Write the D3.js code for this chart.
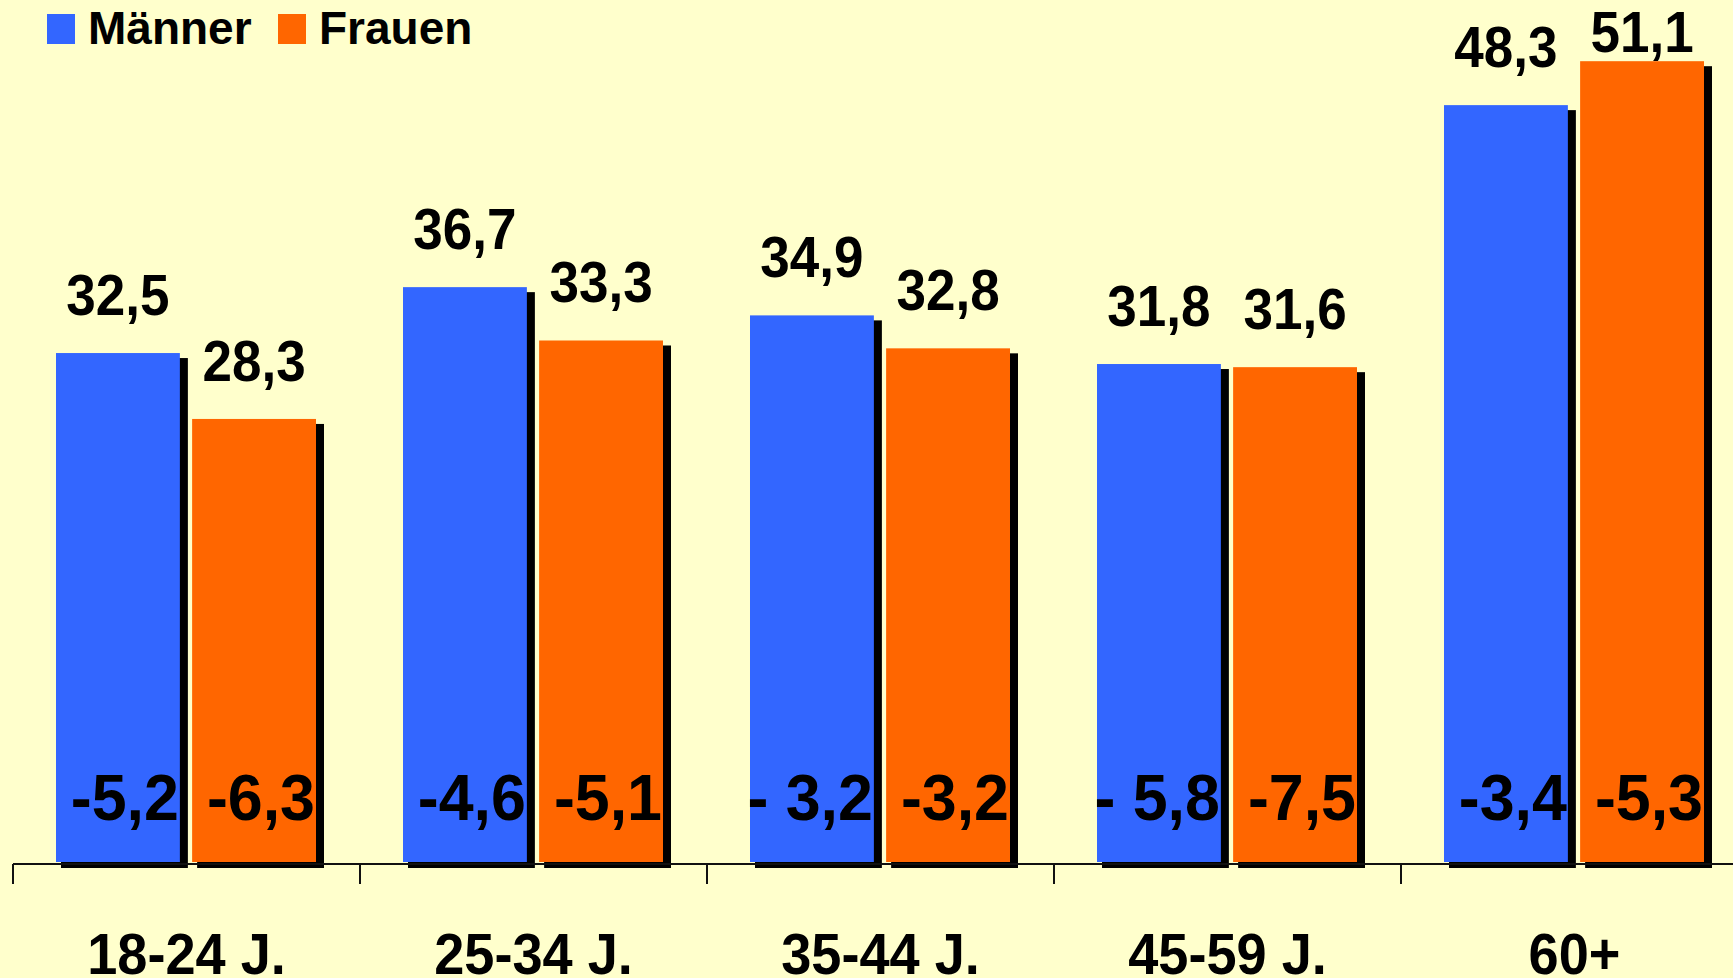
<!DOCTYPE html>
<html>
<head>
<meta charset="utf-8">
<script src="https://cdn.jsdelivr.net/npm/d3@7"></script>
<style>
  html, body { margin: 0; padding: 0; background: #FFFFCC; overflow: hidden; }
  svg { display: block; }
  text { font-family: "Liberation Sans", Arial, sans-serif; font-weight: bold; fill: #000; }
</style>
</head>
<body>
<svg id="chart" width="1733" height="978"></svg>
<script>
const categories = ["18-24 J.", "25-34 J.", "35-44 J.", "45-59 J.", "60+"];
const seriesNames = ["Männer", "Frauen"];
const maenner = [32.5, 36.7, 34.9, 31.8, 48.3];
const frauen = [28.3, 33.3, 32.8, 31.6, 51.1];
const maennerChange = ["-5,2", "-4,6", "- 3,2", "- 5,8", "-3,4"];
const frauenChange = ["-6,3", "-5,1", "-3,2", "-7,5", "-5,3"];

const colors = { "Männer": "#3366FF", "Frauen": "#FF6600" };
const W = 1733, H = 978;
const svg = d3.select("#chart");
svg.append("rect").attr("width", W).attr("height", H).attr("fill", "#FFFFCC");

const x0 = d3.scaleBand().domain(categories).range([13, 13 + 5 * 347]).padding(0);
const x1 = d3.scaleBand().domain(seriesNames).range([43, 303]).paddingInner(0.09);
const y = d3.scaleLinear().domain([0, 55]).range([863, 0]);

const rows = categories.map((c, i) => ({
  cat: c,
  values: [
    { s: "Männer", v: maenner[i], ch: maennerChange[i] },
    { s: "Frauen", v: frauen[i], ch: frauenChange[i] }
  ]
}));

const fmt = v => d3.format(".1f")(v).replace(".", ",");
const sx = 0.93;

const groups = svg.selectAll("g.grp").data(rows).join("g")
  .attr("class", "grp")
  .attr("transform", d => `translate(${x0(d.cat)},0)`);

// shadows
groups.selectAll("rect.shadow").data(d => d.values).join("rect")
  .attr("class", "shadow")
  .attr("x", d => x1(d.s) + 5)
  .attr("y", d => y(d.v) + 5)
  .attr("width", x1.bandwidth() + 3)
  .attr("height", d => y(0) - y(d.v))
  .attr("fill", "#000");

// bars
groups.selectAll("rect.bar").data(d => d.values).join("rect")
  .attr("class", "bar")
  .attr("x", d => x1(d.s))
  .attr("y", d => y(d.v))
  .attr("width", x1.bandwidth())
  .attr("height", d => y(0) - y(d.v) - 1)
  .attr("fill", d => colors[d.s]);

// value labels
groups.selectAll("text.val").data(d => d.values).join("text")
  .attr("class", "val")
  .attr("text-anchor", "middle")
  .attr("font-size", 57)
  .attr("transform", d => `translate(${x1(d.s) + x1.bandwidth() / 2},${Math.max(y(d.v) - 38, 52)}) scale(${sx},1)`)
  .text(d => fmt(d.v));

// change labels inside bars
groups.selectAll("text.chg").data(d => d.values).join("text")
  .attr("class", "chg")
  .attr("text-anchor", "end")
  .attr("font-size", 64)
  .attr("xml:space", "preserve")
  .style("white-space", "pre")
  .attr("transform", d => `translate(${x1(d.s) + x1.bandwidth() - 1},820) scale(0.98,1)`)
  .text(d => d.ch);

// axis
const axisG = svg.append("g").attr("transform", `translate(0,${y(0) + 1})`);
axisG.append("line").attr("x1", x0.range()[0]).attr("x2", W).attr("y1", 0).attr("y2", 0)
  .attr("stroke", "#111").attr("stroke-width", 2);
axisG.selectAll("line.tick").data(categories).join("line")
  .attr("class", "tick")
  .attr("x1", d => x0(d)).attr("x2", d => x0(d))
  .attr("y1", 0).attr("y2", 20)
  .attr("stroke", "#111").attr("stroke-width", 2);

// category labels
svg.selectAll("text.cat").data(categories).join("text")
  .attr("class", "cat")
  .attr("text-anchor", "middle")
  .attr("font-size", 57)
  .attr("transform", d => `translate(${x0(d) + x0.bandwidth() / 2},974) scale(0.95,1)`)
  .text(d => d);

// legend
const legend = svg.append("g");
const legItems = [
  { s: "Männer", x: 47 },
  { s: "Frauen", x: 278 }
];
legItems.forEach(it => {
  legend.append("rect").attr("x", it.x).attr("y", 14).attr("width", 28).attr("height", 30)
    .attr("fill", colors[it.s]);
  legend.append("text").attr("x", it.x + 41).attr("y", 44).attr("font-size", 46).text(it.s);
});
</script>
</body>
</html>
